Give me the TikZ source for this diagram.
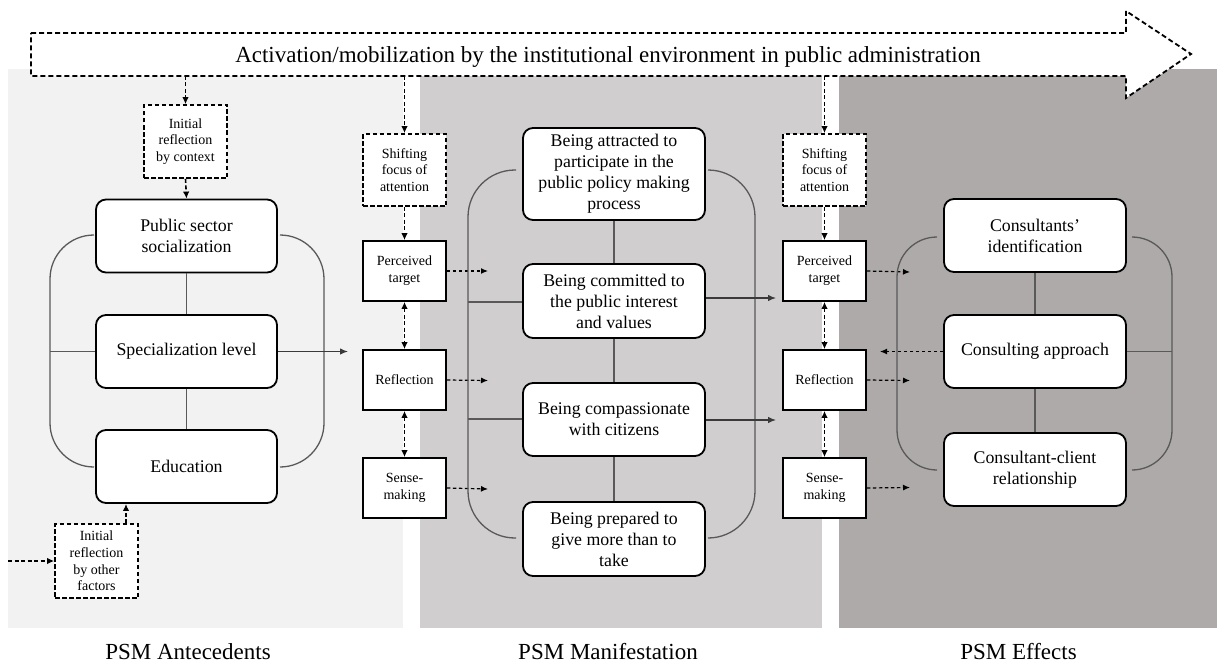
\documentclass[tikz,border=0pt]{standalone}
\usepackage{fontspec}
\setmainfont{Liberation Serif}
\usetikzlibrary{arrows.meta}

\definecolor{panelA}{HTML}{F2F2F2}
\definecolor{panelB}{HTML}{D0CECE}
\definecolor{panelC}{HTML}{AEAAAA}
\definecolor{linegray}{HTML}{595959}
\definecolor{darkline}{HTML}{3A3A3A}

\tikzset{
  box/.style={draw=black, line width=1.8pt, rounded corners=10pt, fill=white,
    minimum width=182pt, align=center, inner sep=0pt,
    font=\fontsize{17.8}{21}\selectfont},
  sbox/.style={draw=black, line width=1.7pt, fill=white, minimum width=83pt,
    minimum height=60pt, align=center, inner sep=0pt,
    font=\fontsize{14}{16.7}\selectfont},
  dbox/.style={sbox, dash pattern=on 4.5pt off 2.5pt, minimum height=72pt},
  link/.style={draw=linegray, line width=1.3pt},
  bracket/.style={draw=linegray, line width=1.3pt, rounded corners=#1},
  solidarr/.style={draw=darkline, line width=1.2pt, -{Latex[length=8pt,width=6.5pt]}},
  dasharr/.style={draw=black, line width=1.6pt, dash pattern=on 4pt off 2.5pt,
    -{Latex[length=7pt,width=6.5pt]}},
  ddarr/.style={dasharr, {Latex[length=7pt,width=6.5pt]}-{Latex[length=7pt,width=6.5pt]}},
  thindash/.style={draw=black, line width=1.2pt, dash pattern=on 3.5pt off 2.5pt,
    -{Latex[length=7pt,width=6pt]}},
  caption/.style={font=\fontsize{23}{27}\selectfont, inner sep=0pt},
}

\begin{document}
\begin{tikzpicture}[x=1pt,y=-1pt]
\useasboundingbox (0,0) rectangle (1217,666);

% three stage panels
\fill[panelA] (8,69) rectangle (403,628);
\fill[panelB] (420,69) rectangle (822,628);
\fill[panelC] (839,69) rectangle (1217,628);

% institutional environment arrow across the top
\draw[fill=white, line width=1.8pt, dash pattern=on 5pt off 3pt]
  (31,33) -- (1126,33) -- (1126,11) -- (1191,54) -- (1126,98) -- (1126,76) -- (31,76) -- cycle;
\node[caption, anchor=base] (title) at (608,62.5)
  {Activation/mobilization by the institutional environment in public administration};
\coordinate (t1) at (185.5,76);
\coordinate (t2) at (404.5,76);
\coordinate (t3) at (824.5,76);

% ---------- antecedents ----------
\node[dbox, minimum height=73pt] (ctx) at (185.5,141.5) {Initial\\reflection\\by context};
\node[box, minimum width=181pt, minimum height=73pt] (pss) at (186.5,236) {Public sector\\socialization};
\node[box, minimum width=181pt, minimum height=73pt] (spec) at (186.5,351.5) {Specialization level};
\node[box, minimum width=181pt, minimum height=73pt] (edu) at (186.5,466.5) {Education};
\node[dbox, minimum height=74pt] (oth) at (96.5,561) {Initial\\reflection\\by other\\factors};

\draw[bracket=44pt] (94,235) -- (50,235) -- (50,467) -- (94,467);
\draw[bracket=44pt] (280,235) -- (324,235) -- (324,467) -- (280,467);
\coordinate (lbr) at (50,351.5);
\coordinate (othin) at (8,561);
\coordinate (specout) at (348,351.5);

\draw[dasharr] (t1) -- (ctx.north);
\draw[dasharr] (ctx.south) -- (pss.north);
\draw[link] (pss.south) -- (spec.north);
\draw[link] (spec.south) -- (edu.north);
\draw[link] (lbr) -- (spec.west);
\draw[solidarr] (spec.east) -- (specout);
\draw[dasharr] (othin) -- (oth.west);
\draw[dasharr] ([xshift=29.5pt]oth.north) -- ([xshift=29.5pt]oth.north |- edu.south);

% ---------- first attention column ----------
\node[dbox] (sh1) at (404.5,170) {Shifting\\focus of\\attention};
\node[sbox] (pt1) at (404.5,271) {Perceived\\target};
\node[sbox] (rf1) at (404.5,380) {Reflection};
\node[sbox] (sm1) at (404.5,488) {Sense-\\making};
\coordinate (pt1o) at (488,271);
\coordinate (rf1o) at (488,380.5);
\coordinate (sm1o) at (488,489);

\draw[dasharr] (t2) -- (sh1.north);
\draw[dasharr] (sh1.south) -- (pt1.north);
\draw[ddarr] (pt1.south) -- (rf1.north);
\draw[ddarr] (rf1.south) -- (sm1.north);
\draw[thindash] (pt1.east) -- (pt1o);
\draw[thindash] (rf1.east) -- (rf1o);
\draw[thindash] (sm1.east) -- (sm1o);

% ---------- manifestation ----------
\node[box, minimum height=92pt] (att) at (614,174) {Being attracted to\\participate in the\\public policy making\\process};
\node[box, minimum height=74pt] (com) at (614,301) {Being committed to\\the public interest\\and values};
\node[box, minimum height=73pt] (cmp) at (614,419.5) {Being compassionate\\with citizens};
\node[box, minimum height=74pt] (prep) at (614,539) {Being prepared to\\give more than to\\take};

\draw[bracket=47pt] (516,170) -- (468,170) -- (468,538) -- (516,538);
\draw[bracket=47pt] (708,170) -- (755,170) -- (755,538) -- (708,538);
\coordinate (mbr1) at (468,302);
\coordinate (mbr2) at (468,419);
\coordinate (comout) at (776,298);
\coordinate (cmpout) at (776,420);

\draw[link] (att.south) -- (com.north);
\draw[link] (com.south) -- (cmp.north);
\draw[link] (cmp.south) -- (prep.north);
\draw[link] (mbr1) -- (mbr1 -| com.west);
\draw[link] (mbr2) -- (mbr2 -| cmp.west);
\draw[solidarr] (com.east |- comout) -- (comout);
\draw[solidarr] (cmp.east |- cmpout) -- (cmpout);

% ---------- second attention column ----------
\node[dbox] (sh2) at (824.5,170) {Shifting\\focus of\\attention};
\node[sbox] (pt2) at (824.5,271) {Perceived\\target};
\node[sbox] (rf2) at (824.5,380) {Reflection};
\node[sbox] (sm2) at (824.5,488) {Sense-\\making};
\coordinate (pt2o) at (910,272);
\coordinate (rf2o) at (910,380.5);
\coordinate (sm2o) at (910,487.5);

\draw[dasharr] (t3) -- (sh2.north);
\draw[dasharr] (sh2.south) -- (pt2.north);
\draw[ddarr] (pt2.south) -- (rf2.north);
\draw[ddarr] (rf2.south) -- (sm2.north);
\draw[thindash] (pt2.east) -- (pt2o);
\draw[thindash] (rf2.east) -- (rf2o);
\draw[thindash] (sm2.east) -- (sm2o);

% ---------- effects ----------
\node[box, minimum height=73pt] (cid) at (1035,235.5) {Consultants’\\identification};
\node[box, minimum height=73pt] (cap) at (1035,351.5) {Consulting approach};
\node[box, minimum height=73pt] (ccr) at (1035,469.5) {Consultant-client\\relationship};

\draw[bracket=40pt] (937,237) -- (897,237) -- (897,470) -- (937,470);
\draw[bracket=40pt] (1134,237) -- (1172,237) -- (1172,470) -- (1134,470);
\coordinate (rbr) at (1172,351.5);
\coordinate (capback) at (880,351.5);

\draw[link] (cid.south) -- (cap.north);
\draw[link] (cap.south) -- (ccr.north);
\draw[link] (cap.east) -- (rbr);
\draw[thindash] (cap.west) -- (capback);

% stage captions
\node[caption] (capA) at (188,652) {PSM Antecedents};
\node[caption] (capB) at (608,652) {PSM Manifestation};
\node[caption] (capC) at (1018.5,652) {PSM Effects};
\end{tikzpicture}
\end{document}
